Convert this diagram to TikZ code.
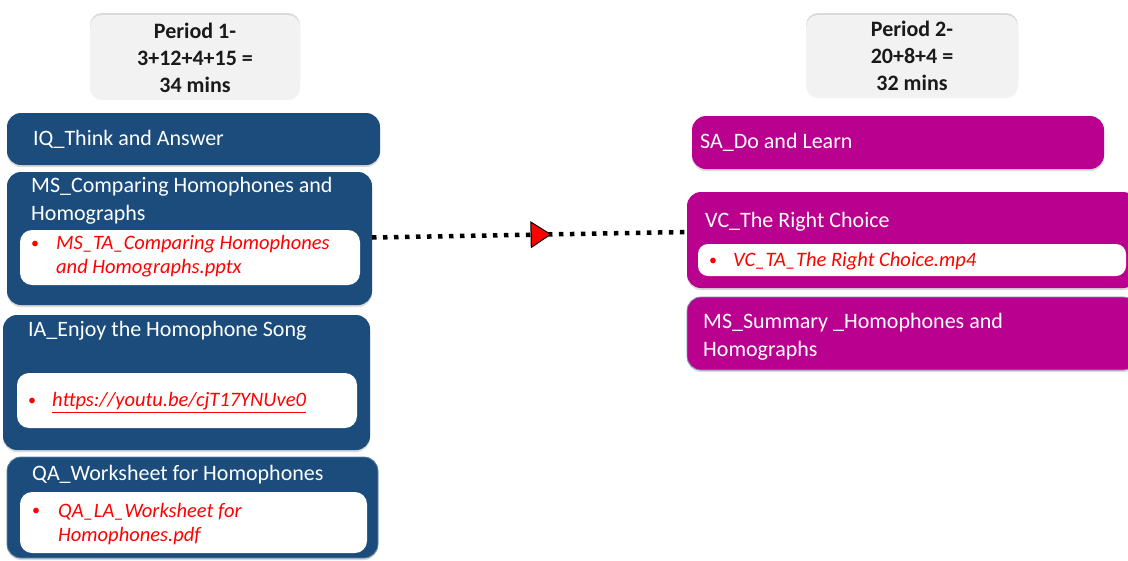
\documentclass[tikz,border=0pt]{standalone}
\usepackage{fontspec}
\setmainfont{Carlito}
\usetikzlibrary{arrows.meta,decorations.markings,shadows}
\definecolor{pblue}{HTML}{1B4C7C}
\definecolor{pmag}{HTML}{BA008E}
\definecolor{pgray}{HTML}{F2F2F2}
\definecolor{ptext}{HTML}{1A1A1A}
\definecolor{pred}{HTML}{FF0000}
\begin{document}
\begin{tikzpicture}[x=1pt,y=-1pt,
  boxbase/.style={anchor=north west, inner sep=0pt, outer sep=0pt, rounded corners=14pt},
  bluebox/.style={boxbase, fill=pblue, drop shadow={opacity=0.3, shadow xshift=0pt, shadow yshift=-2pt}},
  magbox/.style={boxbase, fill=pmag, drop shadow={opacity=0.3, shadow xshift=0pt, shadow yshift=-2pt}},
  perbox/.style={boxbase, rounded corners=12pt, fill=pgray, drop shadow={opacity=0.3, shadow xshift=0pt, shadow yshift=2pt}},
  inbox/.style={boxbase, rounded corners=12pt, fill=white},
  lbl/.style={text=white, inner sep=0pt, anchor=west, align=left, font=\fontsize{22}{28}\selectfont},
  pertext/.style={text=ptext, inner sep=0pt, align=center, font=\fontsize{22}{27}\selectfont\bfseries},
  redtext/.style={text=pred, inner sep=0pt, anchor=west, align=left, font=\fontsize{20.5}{24}\selectfont\itshape},
  bul/.style={text=pred, inner sep=0pt, anchor=west, font=\fontsize{16}{24}\selectfont},
  conn/.style={line width=4.5pt, dash pattern=on 4.5pt off 6.5pt,
    decoration={markings, mark=at position 0.57 with {\arrow{Triangle[length=21pt,width=27pt,fill=pred,line width=1pt]}}},
    postaction=decorate}
]
\useasboundingbox (0,0) rectangle (1128,560);

% Period 1
\node[perbox, minimum width=210pt, minimum height=85pt] (p1) at (90,15) {};
\node[pertext] (p1t) at (195,60) {\strut Period 1-\\\strut 3+12+4+15 =\\\strut 34 mins};

% Period 2
\node[perbox, minimum width=212pt, minimum height=83pt] (p2) at (806,15) {};
\node[pertext] (p2t) at (912,58) {\strut Period 2-\\\strut 20+8+4 =\\\strut 32 mins};

% Left column
\node[bluebox, minimum width=373pt, minimum height=52pt] (iq) at (7,113) {};
\node[lbl] (iqt) at (33,140) {\strut IQ\_Think and Answer};

\node[bluebox, minimum width=365pt, minimum height=133pt] (ms) at (7,172) {};
\node[lbl] (mst) at (31,201) {\strut MS\_Comparing Homophones and\\\strut Homographs};
\node[inbox, minimum width=340pt, minimum height=55pt] (msin) at (20,230) {};
\node[bul] (msb) at (31,244) {\strut •};
\node[redtext] (msint) at (56,257) {\strut MS\_TA\_Comparing Homophones\\\strut and Homographs.pptx};

\node[bluebox, minimum width=367pt, minimum height=135pt] (ia) at (3,315) {};
\node[lbl] (iat) at (28,331) {\strut IA\_Enjoy the Homophone Song};
\node[inbox, minimum width=340pt, minimum height=55pt] (iain) at (17,373) {};
\node[bul] (iab) at (28,401) {\strut •};
\node[redtext] (iaint) at (52,402) {\strut \underline{https://youtu.be/cjT17YNUve0}};

\node[bluebox, draw=pblue!70!white, line width=0.8pt, minimum width=371pt, minimum height=101pt] (qa) at (7,457) {};
\node[lbl] (qat) at (32,475) {\strut QA\_Worksheet for Homophones};
\node[inbox, minimum width=347pt, minimum height=61pt] (qain) at (20,492) {};
\node[bul] (qab) at (32,511) {\strut •};
\node[redtext] (qaint) at (58,525) {\strut QA\_LA\_Worksheet for\\\strut Homophones.pdf};

% Right column
\node[magbox, minimum width=412pt, minimum height=53pt] (sa) at (692,116) {};
\node[lbl] (sat) at (700,143) {\strut SA\_Do and Learn};

\node[magbox, minimum width=450pt, minimum height=96pt] (vc) at (687,192) {};
\node[lbl] (vct) at (705,222) {\strut VC\_The Right Choice};
\node[inbox, rounded corners=10pt, minimum width=428pt, minimum height=32pt] (vcin) at (698,244) {};
\node[bul] (vcb) at (709,261) {\strut •};
\node[redtext] (vcint) at (733,262) {\strut VC\_TA\_The Right Choice.mp4};

\node[magbox, draw=pblue!60!white, line width=0.8pt, minimum width=450pt, minimum height=73pt] (sum) at (687,297) {};
\node[lbl] (sumt) at (703,337) {\strut MS\_Summary \_Homophones and\\\strut Homographs};

% Connector
\draw[conn] ([yshift=1pt]ms.east) -- ([yshift=8pt]vc.west);
\end{tikzpicture}
\end{document}
